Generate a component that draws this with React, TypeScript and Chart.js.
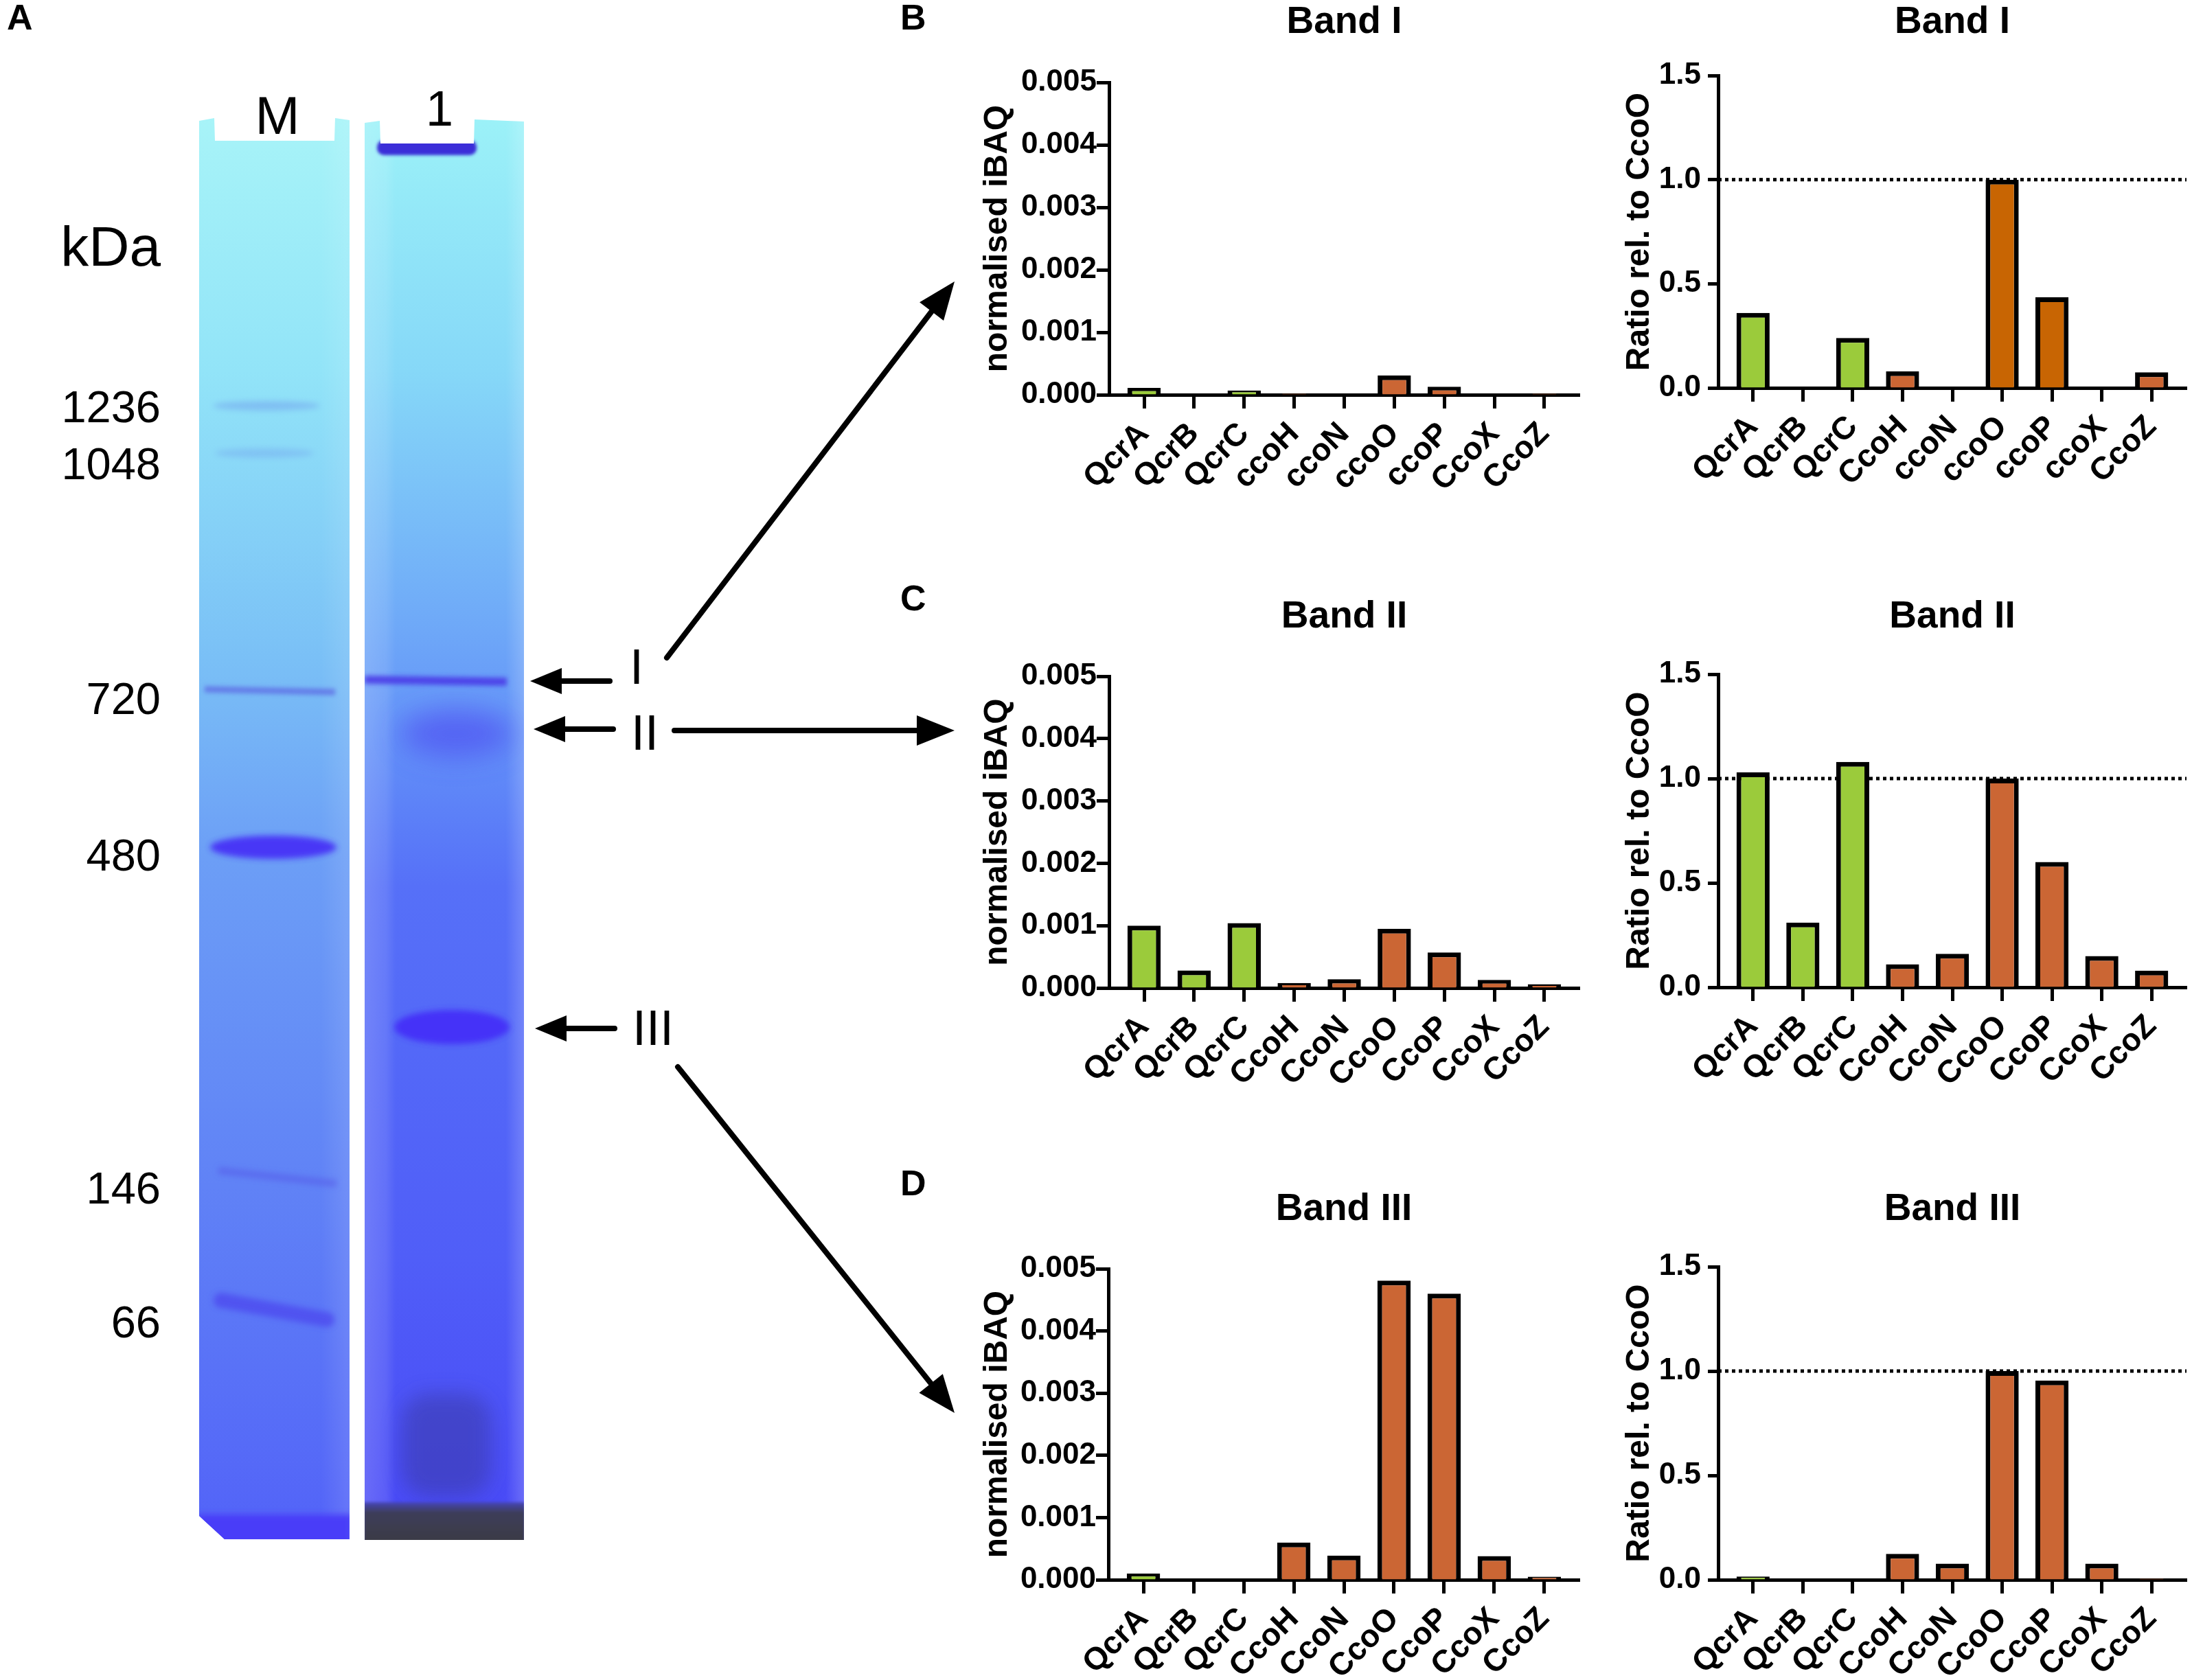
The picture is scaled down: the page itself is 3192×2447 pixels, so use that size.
import React, { useEffect, useRef } from "react";
import { Chart, registerables } from "chart.js";

Chart.register(...registerables);

const FONT = "'Liberation Sans', Arial, Helvetica, sans-serif";

// ---------- data ----------
const catsBandI_iBAQ = ["QcrA", "QcrB", "QcrC", "ccoH", "ccoN", "ccoO", "ccoP", "CcoX", "CcoZ"];
const catsBandI_ratio = ["QcrA", "QcrB", "QcrC", "CcoH", "ccoN", "ccoO", "ccoP", "ccoX", "CcoZ"];
const catsBandII = ["QcrA", "QcrB", "QcrC", "CcoH", "CcoN", "CcoO", "CcoP", "CcoX", "CcoZ"];
const catsBandIII = ["QcrA", "QcrB", "QcrC", "CcoH", "CcoN", "CcoO", "CcoP", "CcoX", "CcoZ"];

const bandI_iBAQ = [0.00011, 0, 0.00007, 0.00002, 0, 0.00031, 0.00013, 0, 0.00002];
const bandI_ratio = [0.36, 0, 0.24, 0.08, 0, 1.0, 0.435, 0, 0.075];
const bandII_iBAQ = [0.001, 0.00028, 0.00104, 0.00008, 0.00014, 0.00095, 0.00057, 0.00013, 0.00006];
const bandII_ratio = [1.03, 0.31, 1.08, 0.11, 0.16, 1.0, 0.6, 0.15, 0.08];
const bandIII_iBAQ = [0.0001, 0, 0, 0.0006, 0.00039, 0.00481, 0.0046, 0.00038, 0.00005];
const bandIII_ratio = [0.016, 0, 0, 0.124, 0.077, 1.0, 0.955, 0.077, 0.006];

const iBAQTicks = [0, 0.001, 0.002, 0.003, 0.004, 0.005];
const ratioTicks = [0, 0.5, 1.0, 1.5];
const referenceLevel = 1.0;

// ---------- styles ----------
const G = "#9BCB3B";
const O = "#CB6634";
const DO = "#C86503";
const colorsStd = [G, G, G, O, O, O, O, O, O];
const colorsBandIRatio = [G, G, G, O, DO, DO, DO, DO, O];

const X_MIN = -0.7;
const X_MAX = 8.7;

const TITLE_SIZE = 55;
const TITLE_LH = TITLE_SIZE * 1.2;

type Spec = {
  cats: string[];
  values: number[];
  colors: string[];
  ratio: boolean;
  title: string;
  left: number;
  top: number;
  width: number;
  height: number;
  padLeft: number;
  padRight: number;
  yAxisW: number;
  xAxisH: number;
  titleGap: number;
};

function mk(
  col: 0 | 1,
  rowTop: number,
  rowBottom: number,
  plotTop: number,
  plotBottom: number,
  plotLeft: number,
  rest: { cats: string[]; values: number[]; colors: string[]; ratio: boolean; title: string }
): Spec {
  const left = col === 0 ? 1380 : 2330;
  const width = col === 0 ? 940 : 862;
  const padLeft = col === 0 ? 44 : 29;
  const padRight = col === 0 ? 20 : 8;
  return {
    ...rest,
    left,
    top: rowTop,
    width,
    height: rowBottom - rowTop,
    padLeft,
    padRight,
    yAxisW: plotLeft - left - padLeft,
    xAxisH: rowBottom - plotBottom,
    titleGap: plotTop - rowTop - TITLE_LH,
  };
}

const specs: Spec[] = [
  mk(0, 0, 860, 120, 575, 1615, { cats: catsBandI_iBAQ, values: bandI_iBAQ, colors: colorsStd, ratio: false, title: "Band I" }),
  mk(1, 0, 860, 110, 565, 2502, { cats: catsBandI_ratio, values: bandI_ratio, colors: colorsBandIRatio, ratio: true, title: "Band I" }),
  mk(0, 866, 1720, 985, 1439, 1615, { cats: catsBandII, values: bandII_iBAQ, colors: colorsStd, ratio: false, title: "Band II" }),
  mk(1, 866, 1720, 982, 1438, 2502, { cats: catsBandII, values: bandII_ratio, colors: colorsStd, ratio: true, title: "Band II" }),
  mk(0, 1729, 2447, 1848, 2301, 1614, { cats: catsBandIII, values: bandIII_iBAQ, colors: colorsStd, ratio: false, title: "Band III" }),
  mk(1, 1729, 2447, 1845, 2301, 2502, { cats: catsBandIII, values: bandIII_ratio, colors: colorsStd, ratio: true, title: "Band III" }),
];

function BarPanel({ spec }: { spec: Spec }) {
  const ref = useRef<HTMLCanvasElement | null>(null);
  useEffect(() => {
    const canvas = ref.current;
    if (!canvas) return;
    const isRatio = spec.ratio;
    const datasets: any[] = [
      {
        type: "bar",
        data: spec.values.map((v, i) => ({ x: i, y: v })),
        backgroundColor: spec.colors,
        borderColor: "#000",
        borderWidth: 7,
        borderSkipped: "start",
        categoryPercentage: 1,
        barPercentage: 0.665,
        order: 1,
      },
    ];
    if (isRatio) {
      datasets.push({
        type: "line",
        data: [
          { x: X_MIN, y: referenceLevel },
          { x: X_MAX, y: referenceLevel },
        ],
        borderColor: "#000",
        borderWidth: 5,
        borderDash: [5, 5],
        pointRadius: 0,
        fill: false,
        order: 2,
      });
    }
    const chart = new Chart(canvas, {
      type: "bar",
      data: { datasets },
      options: {
        animation: false,
        responsive: false,
        maintainAspectRatio: false,
        devicePixelRatio: 1,
        layout: { padding: { left: spec.padLeft, right: spec.padRight, top: 0, bottom: 0 } },
        plugins: {
          legend: { display: false },
          tooltip: { enabled: false },
          title: {
            display: true,
            text: spec.title,
            fullSize: false,
            color: "#000",
            font: { family: FONT, size: TITLE_SIZE, weight: "bold" },
            padding: { top: 0, bottom: spec.titleGap },
          },
        },
        scales: {
          x: {
            type: "linear",
            min: X_MIN,
            max: X_MAX,
            offset: false,
            afterBuildTicks: (s: any) => {
              s.ticks = spec.cats.map((_, i) => ({ value: i }));
            },
            afterFit: (s: any) => {
              s.height = spec.xAxisH;
            },
            grid: {
              offset: false,
              drawOnChartArea: false,
              drawTicks: true,
              tickLength: 20,
              tickWidth: 5,
              tickColor: "#000",
              color: "#000",
            },
            border: { display: true, color: "#000", width: 5 },
            ticks: {
              autoSkip: false,
              minRotation: 45,
              maxRotation: 45,
              padding: 10,
              color: "#000",
              font: { family: FONT, size: 46, weight: "bold" },
              callback: (v: any) => spec.cats[Math.round(Number(v))] ?? "",
            },
          },
          y: {
            type: "linear",
            min: 0,
            max: isRatio ? 1.5 : 0.005,
            afterBuildTicks: (s: any) => {
              s.ticks = (isRatio ? ratioTicks : iBAQTicks).map((v) => ({ value: v }));
            },
            afterFit: (s: any) => {
              s.width = spec.yAxisW;
            },
            grid: {
              drawOnChartArea: false,
              drawTicks: true,
              tickLength: isRatio ? 15 : 18,
              tickWidth: 5,
              tickColor: "#000",
              color: "#000",
            },
            border: { display: true, color: "#000", width: 5 },
            ticks: {
              padding: isRatio ? 10 : 0,
              color: "#000",
              font: { family: FONT, size: 44, weight: "bold" },
              callback: (v: any) => Number(v).toFixed(isRatio ? 1 : 3),
            },
            title: {
              display: true,
              text: isRatio ? "Ratio rel. to CcoO" : "normalised iBAQ",
              color: "#000",
              font: { family: FONT, size: 48, weight: "bold" },
              padding: { top: 0, bottom: 0 },
            },
          },
        },
      } as any,
    });
    return () => chart.destroy();
  }, [spec]);
  return (
    <canvas
      ref={ref}
      width={spec.width}
      height={spec.height}
      style={{ position: "absolute", left: spec.left, top: spec.top, width: spec.width, height: spec.height }}
    />
  );
}

function Arrow({ x1, y1, x2, y2, w = 8, hl = 48, hw = 20 }: { x1: number; y1: number; x2: number; y2: number; w?: number; hl?: number; hw?: number }) {
  const dx = x2 - x1;
  const dy = y2 - y1;
  const len = Math.hypot(dx, dy);
  const ux = dx / len;
  const uy = dy / len;
  const bx = x2 - ux * hl;
  const by = y2 - uy * hl;
  const px = -uy;
  const py = ux;
  return (
    <g>
      <line x1={x1} y1={y1} x2={bx + ux * 4} y2={by + uy * 4} stroke="#000" strokeWidth={w} strokeLinecap="round" />
      <polygon points={`${x2},${y2} ${bx + px * hw},${by + py * hw} ${bx - px * hw},${by - py * hw}`} fill="#000" />
    </g>
  );
}

const laneMPath = "M290 176 L312 172 L313 205 L487 205 L488 172 L509 175 L509 2242 L327 2242 L290 2208 Z";
const lane1Path = "M531 179 L553 176 L554 209 L690 209 L691 174 L763 177 L763 2243 L531 2243 Z";

function Gel() {
  const t = { fontFamily: FONT, fill: "#000" } as any;
  return (
    <svg width={3192} height={2447} style={{ position: "absolute", left: 0, top: 0 }}>
      <defs>
        <linearGradient id="gM" x1="0" y1="0" x2="0" y2="1">
          <stop offset="0" stopColor="#A8F4F8" />
          <stop offset="0.18" stopColor="#92E4F8" />
          <stop offset="0.38" stopColor="#7AC0F6" />
          <stop offset="0.52" stopColor="#6C9EF6" />
          <stop offset="0.75" stopColor="#6082F6" />
          <stop offset="1" stopColor="#5262F8" />
        </linearGradient>
        <linearGradient id="g1" x1="0" y1="0" x2="0" y2="1">
          <stop offset="0" stopColor="#9CF2F8" />
          <stop offset="0.18" stopColor="#86D8F8" />
          <stop offset="0.36" stopColor="#6EA8F8" />
          <stop offset="0.44" stopColor="#6290F8" />
          <stop offset="0.54" stopColor="#5670F8" />
          <stop offset="0.8" stopColor="#505EF8" />
          <stop offset="1" stopColor="#4848F6" />
        </linearGradient>
        <linearGradient id="edge1" x1="0" y1="0" x2="1" y2="0">
          <stop offset="0" stopColor="#ffffff" stopOpacity="0.18" />
          <stop offset="0.14" stopColor="#ffffff" stopOpacity="0.1" />
          <stop offset="0.2" stopColor="#ffffff" stopOpacity="0" />
          <stop offset="0.88" stopColor="#ffffff" stopOpacity="0" />
          <stop offset="1" stopColor="#ffffff" stopOpacity="0.2" />
        </linearGradient>
        <linearGradient id="edgeM" x1="0" y1="0" x2="1" y2="0">
          <stop offset="0" stopColor="#ffffff" stopOpacity="0" />
          <stop offset="0.8" stopColor="#ffffff" stopOpacity="0" />
          <stop offset="1" stopColor="#ffffff" stopOpacity="0.12" />
        </linearGradient>
        <linearGradient id="bot1" x1="0" y1="0" x2="0" y2="1">
          <stop offset="0" stopColor="#4646B8" />
          <stop offset="0.25" stopColor="#3E3E5A" />
          <stop offset="1" stopColor="#3A3A44" />
        </linearGradient>
        <filter id="b2" filterUnits="userSpaceOnUse" x="0" y="0" width="1400" height="2447">
          <feGaussianBlur stdDeviation="2" />
        </filter>
        <filter id="b3" filterUnits="userSpaceOnUse" x="0" y="0" width="1400" height="2447">
          <feGaussianBlur stdDeviation="3" />
        </filter>
        <filter id="b4" filterUnits="userSpaceOnUse" x="0" y="0" width="1400" height="2447">
          <feGaussianBlur stdDeviation="4" />
        </filter>
        <filter id="b14" filterUnits="userSpaceOnUse" x="0" y="0" width="1400" height="2447">
          <feGaussianBlur stdDeviation="14" />
        </filter>
        <filter id="b20" filterUnits="userSpaceOnUse" x="0" y="0" width="1400" height="2447">
          <feGaussianBlur stdDeviation="20" />
        </filter>
        <clipPath id="cM">
          <path d={laneMPath} />
        </clipPath>
        <clipPath id="c1">
          <path d={lane1Path} />
        </clipPath>
      </defs>

      {/* Lane M */}
      <g clipPath="url(#cM)">
        <rect x={288} y={165} width={224} height={2085} fill="url(#gM)" />
        <rect x={288} y={165} width={224} height={2085} fill="url(#edgeM)" />
        <ellipse cx={388} cy={591} rx={78} ry={7} fill="#5C74E6" opacity={0.3} filter="url(#b4)" />
        <ellipse cx={385} cy={660} rx={72} ry={7} fill="#5C74E6" opacity={0.22} filter="url(#b4)" />
        <line x1={298} y1={1004} x2={488} y2={1008} stroke="#5A62E2" strokeWidth={9} opacity={0.7} filter="url(#b3)" />
        <ellipse cx={398} cy={1234} rx={92} ry={17} fill="#4630F6" opacity={0.95} filter="url(#b4)" />
        <line x1={318} y1={1705} x2={490} y2={1724} stroke="#5458E8" strokeWidth={10} opacity={0.55} filter="url(#b4)" />
        <line x1={322} y1={1894} x2={476} y2={1922} stroke="#4C44EE" strokeWidth={22} opacity={0.7} filter="url(#b4)" strokeLinecap="round" />
        <rect x={288} y={2206} width={224} height={45} fill="#4A3CF8" filter="url(#b4)" />
      </g>

      {/* Lane 1 */}
      <g clipPath="url(#c1)">
        <rect x={529} y={165} width={236} height={2085} fill="url(#g1)" />
        <rect x={529} y={165} width={236} height={2085} fill="url(#edge1)" />
        <rect x={549} y={204} width={145} height={22} rx={10} fill="#3B2ED8" filter="url(#b2)" />
        <line x1={531} y1={990} x2={738} y2={993} stroke="#4A38E6" strokeWidth={12} opacity={0.85} filter="url(#b3)" />
        <ellipse cx={665} cy={1068} rx={82} ry={34} fill="#4A3CF0" opacity={0.55} filter="url(#b20)" />
        <ellipse cx={658} cy={1496} rx={84} ry={25} fill="#4432F8" filter="url(#b4)" />
        <rect x={585} y={2030} width={130} height={150} rx={40} fill="#3A3AA8" opacity={0.55} filter="url(#b14)" />
        <rect x={529} y={2188} width={236} height={60} fill="url(#bot1)" filter="url(#b2)" />
      </g>

      {/* gel labels */}
      <text x={404} y={195} fontSize={78} textAnchor="middle" {...t}>M</text>
      <text x={640} y={183} fontSize={72} textAnchor="middle" {...t}>1</text>
      <text x={234} y={387} fontSize={82} textAnchor="end" {...t}>kDa</text>
      <text x={234} y={615} fontSize={65} textAnchor="end" {...t}>1236</text>
      <text x={234} y={698} fontSize={65} textAnchor="end" {...t}>1048</text>
      <text x={234} y={1040} fontSize={65} textAnchor="end" {...t}>720</text>
      <text x={234} y={1268} fontSize={65} textAnchor="end" {...t}>480</text>
      <text x={234} y={1753} fontSize={65} textAnchor="end" {...t}>146</text>
      <text x={234} y={1948} fontSize={65} textAnchor="end" {...t}>66</text>

      {/* band markers */}
      <Arrow x1={888} y1={992} x2={772} y2={992} hl={46} hw={19} />
      <Arrow x1={893} y1={1062} x2={777} y2={1062} hl={46} hw={19} />
      <Arrow x1={895} y1={1498} x2={779} y2={1498} hl={46} hw={19} />
      <text x={927} y={996} fontSize={72} textAnchor="middle" {...t}>I</text>
      <text x={939} y={1092} fontSize={72} textAnchor="middle" {...t}>II</text>
      <text x={951} y={1522} fontSize={72} textAnchor="middle" {...t}>III</text>

      <Arrow x1={971} y1={958} x2={1390} y2={410} hl={55} hw={22} />
      <Arrow x1={982} y1={1064} x2={1390} y2={1064} hl={55} hw={22} />
      <Arrow x1={987} y1={1554} x2={1390} y2={2058} hl={55} hw={22} />

      {/* panel letters */}
      <text x={10} y={43} fontSize={52} fontWeight="bold" {...t}>A</text>
      <text x={1311} y={43} fontSize={52} fontWeight="bold" {...t}>B</text>
      <text x={1311} y={889} fontSize={52} fontWeight="bold" {...t}>C</text>
      <text x={1311} y={1741} fontSize={52} fontWeight="bold" {...t}>D</text>
    </svg>
  );
}

export default function App() {
  return (
    <div
      style={{
        position: "absolute",
        left: 0,
        top: 0,
        width: 3192,
        height: 2447,
        background: "#fff",
        overflow: "hidden",
      }}
    >
      <Gel />
      {specs.map((s, i) => (
        <BarPanel key={i} spec={s} />
      ))}
    </div>
  );
}
